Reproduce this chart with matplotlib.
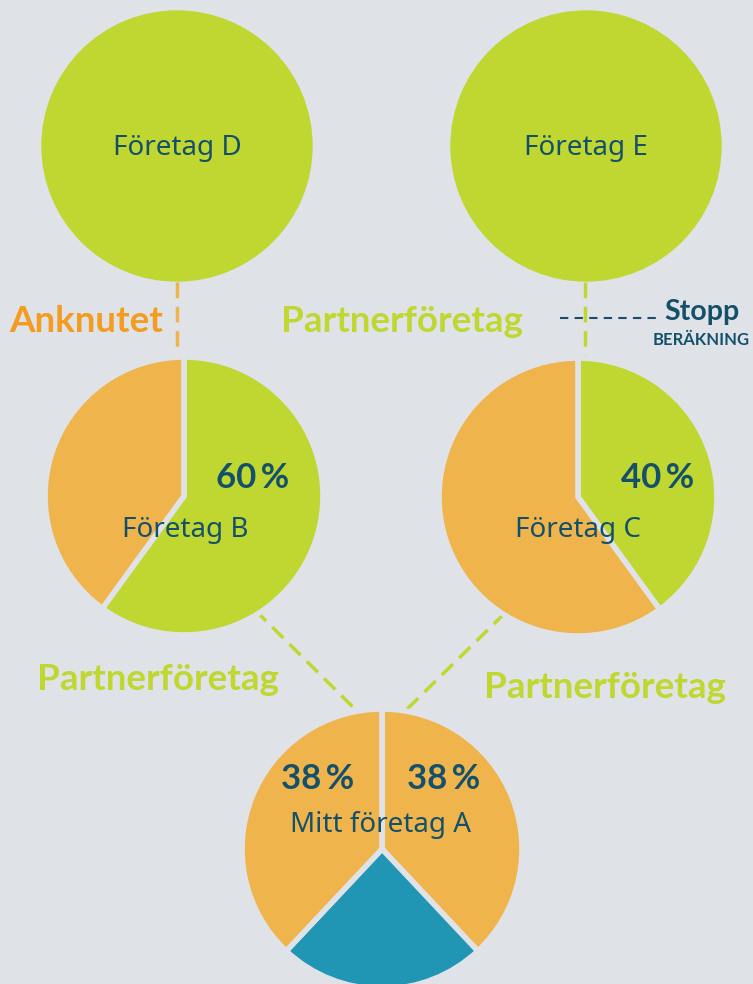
import matplotlib
matplotlib.use('Agg')
import matplotlib.pyplot as plt
from matplotlib.patches import Circle

# colours
BG = '#dfe3e8'
GREEN = '#bfd730'
ORANGE = '#f0b44c'
ORANGE_TXT = '#f39c1f'
TEAL = '#2096b4'
DARK = '#15506b'

W, H = 753, 984

# data
companies_top = ['Företag D', 'Företag E']
pie_b_values = [60, 40]
pie_c_values = [40, 60]
pie_a_values = [38, 24, 38]
pie_b_colors = [GREEN, ORANGE]
pie_c_colors = [GREEN, ORANGE]
pie_a_colors = [ORANGE, TEAL, ORANGE]

plt.rcParams['font.family'] = ['Noto Sans', 'DejaVu Sans']
BOLD = ['Lato', 'DejaVu Sans']

fig = plt.figure(figsize=(W / 100, H / 100), dpi=100, facecolor=BG)
ax = fig.add_axes([0, 0, 1, 1])
ax.set_facecolor(BG)


def Y(py):
    # pixel row -> data y (y axis goes up)
    return H - py


# connecting dashed lines (drawn first, under the circles)
dash = (0, (4.5, 2.5))
ax.plot([177, 177], [Y(282), Y(362)], color=ORANGE, lw=2.5, ls=dash, zorder=1)
ax.plot([585, 585], [Y(282), Y(362)], color=GREEN, lw=2.5, ls=dash, zorder=1)
ax.plot([255, 362], [Y(610), Y(716)], color=GREEN, lw=2.5, ls=dash, zorder=1)
ax.plot([505, 400], [Y(613), Y(716)], color=GREEN, lw=2.5, ls=dash, zorder=1)
ax.plot([560, 656], [Y(318), Y(318)], color=DARK, lw=1.5, ls=(0, (4, 3)), zorder=1)

# top circles
for cx, name in zip([177, 586], companies_top):
    ax.add_patch(Circle((cx, Y(146)), 135, color=GREEN, zorder=2))
    ax.text(cx, Y(148), name, ha='center', va='center', fontsize=20, color=DARK, zorder=5)

wp = dict(edgecolor=BG, linewidth=4)

# pie B
ax.pie(pie_b_values, colors=pie_b_colors, startangle=90, counterclock=False,
       center=(184, Y(496)), radius=139, wedgeprops=wp, frame=True)
# pie C
ax.pie(pie_c_values, colors=pie_c_colors, startangle=90, counterclock=False,
       center=(578, Y(497)), radius=139, wedgeprops=wp, frame=True)
# pie A
ax.pie(pie_a_values, colors=pie_a_colors, startangle=90, counterclock=False,
       center=(382, Y(849)), radius=140, wedgeprops=wp, frame=True)

# percentage labels
pct = dict(ha='center', va='center', fontsize=25, fontweight='bold',
           color=DARK, zorder=5, family=BOLD)
ax.text(253, Y(478), f'{pie_b_values[0]}\u2009%', **pct)
ax.text(658, Y(478), f'{pie_c_values[0]}\u2009%', **pct)
ax.text(318, Y(779), f'{pie_a_values[2]}\u2009%', **pct)
ax.text(444, Y(779), f'{pie_a_values[0]}\u2009%', **pct)

ax.text(185, Y(530), 'Företag B', ha='center', va='center', fontsize=20, color=DARK, zorder=5)
ax.text(578, Y(530), 'Företag C', ha='center', va='center', fontsize=20, color=DARK, zorder=5)
ax.text(381, Y(825), 'Mitt företag A', ha='center', va='center', fontsize=20, color=DARK, zorder=5)

# relation labels
rel = dict(ha='center', va='center', fontsize=26.5, fontweight='bold', family=BOLD)
ax.text(86, Y(322), 'Anknutet', color=ORANGE_TXT, **rel)
ax.text(402, Y(322), 'Partnerföretag', color=GREEN, **rel)
ax.text(158, Y(680), 'Partnerföretag', color=GREEN, **rel)
ax.text(605, Y(688), 'Partnerföretag', color=GREEN, **rel)
ax.text(702, Y(312), 'Stopp', ha='center', va='center', fontsize=20.5,
        fontweight='bold', color=DARK, family=BOLD)
ax.text(701, Y(340), 'BERÄKNING', ha='center', va='center', fontsize=12,
        fontweight='bold', color=DARK, family=BOLD)

ax.set_xlim(0, W)
ax.set_ylim(0, H)
ax.set_aspect('equal')
ax.axis('off')

fig.savefig('out.png', dpi=100, facecolor=BG)
